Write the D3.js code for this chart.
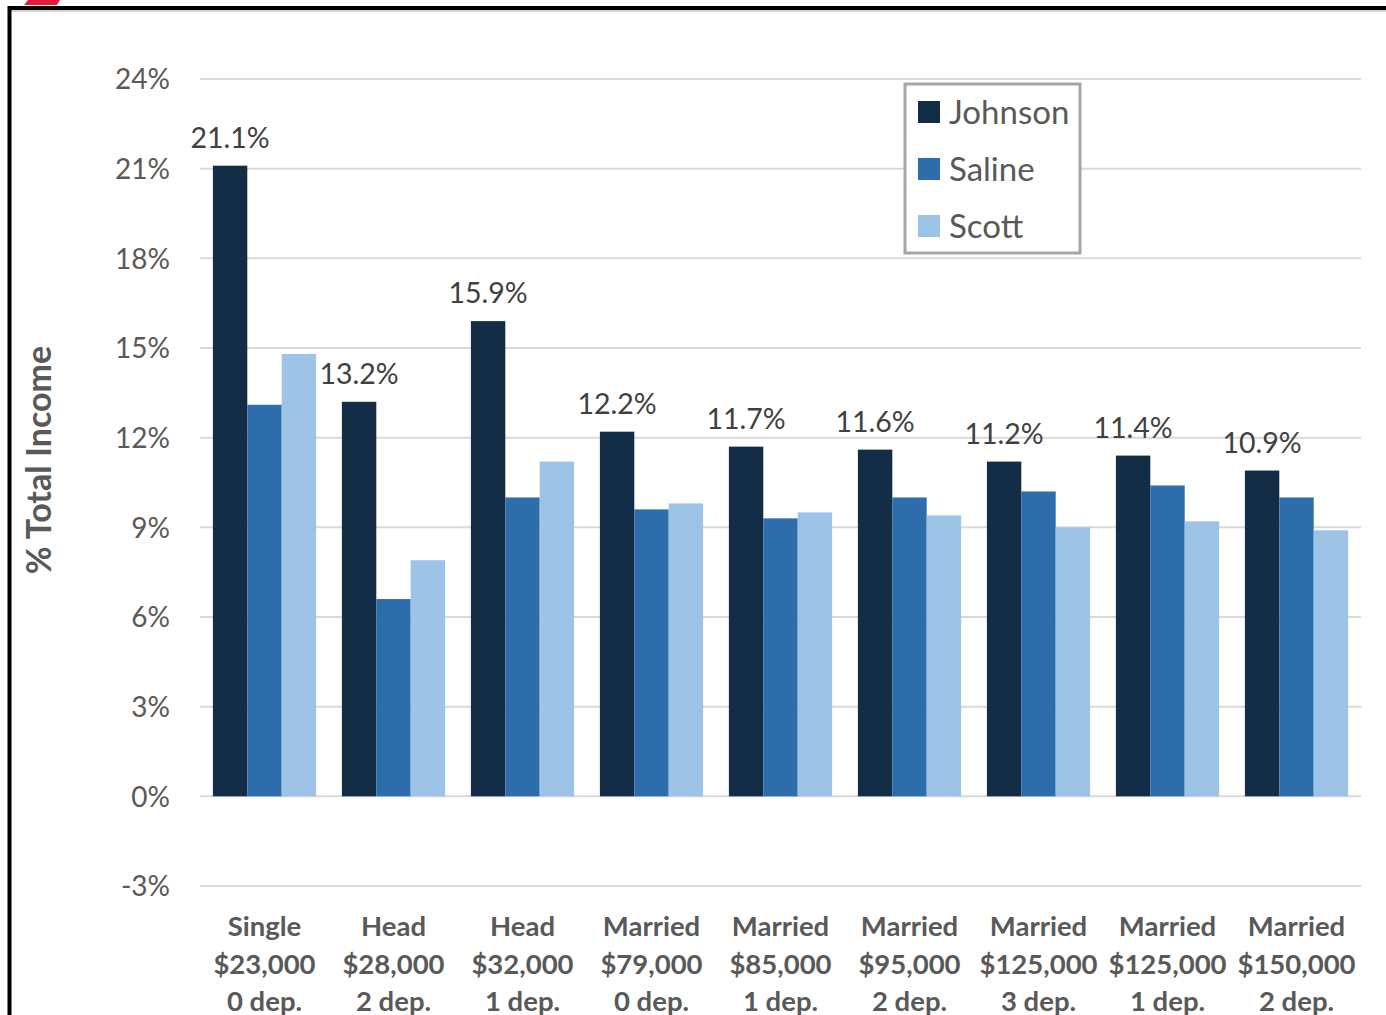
<!DOCTYPE html>
<html>
<head>
<meta charset="utf-8">
<script src="https://cdn.jsdelivr.net/npm/d3@7"></script>
<style>
  html, body { margin: 0; padding: 0; background: #fff; }
  svg { display: block; }
</style>
</head>
<body>
<svg id="chart" width="1386" height="1015"></svg>
<script>
// Tax burden as share of total income, by household profile and county
const categories = [
  ["Single", "$23,000", "0 dep."],
  ["Head", "$28,000", "2 dep."],
  ["Head", "$32,000", "1 dep."],
  ["Married", "$79,000", "0 dep."],
  ["Married", "$85,000", "1 dep."],
  ["Married", "$95,000", "2 dep."],
  ["Married", "$125,000", "3 dep."],
  ["Married", "$125,000", "1 dep."],
  ["Married", "$150,000", "2 dep."]
];
const seriesNames = ["Johnson", "Saline", "Scott"];
const johnson = [21.1, 13.2, 15.9, 12.2, 11.7, 11.6, 11.2, 11.4, 10.9];
const saline  = [13.1, 6.6, 10.0, 9.6, 9.3, 10.0, 10.2, 10.4, 10.0];
const scott   = [14.8, 7.9, 11.2, 9.8, 9.5, 9.4, 9.0, 9.2, 8.9];
const yTicks  = [-3, 0, 3, 6, 9, 12, 15, 18, 21, 24];

const series = [johnson, saline, scott];
const colors = ["#132d46", "#2e6dab", "#9dc3e6"];
const font = "Lato, 'Open Sans', sans-serif";

const svg = d3.select("#chart");

// outer frame and corner accent
svg.append("polygon")
  .attr("points", "28,0 60,0 57,5 24,5")
  .attr("fill", "#e31c3d");
svg.append("line").attr("x1", 8).attr("x2", 1386).attr("y1", 11).attr("y2", 11)
  .attr("stroke", "#c8c8c8").attr("stroke-width", 1.5);
svg.append("path")
  .attr("d", "M9.5,1015 V8 H1386")
  .attr("fill", "none").attr("stroke", "#000").attr("stroke-width", 4);

const x0 = d3.scaleBand()
  .domain(d3.range(categories.length))
  .range([200, 1361])
  .paddingInner(0.2)
  .paddingOuter(0.1);
const x1 = d3.scaleBand()
  .domain(d3.range(seriesNames.length))
  .range([0, x0.bandwidth()]);
const y = d3.scaleLinear().domain([-3, 24]).range([886, 79]);

// gridlines
svg.append("g")
  .selectAll("line")
  .data(yTicks)
  .join("line")
  .attr("x1", 200).attr("x2", 1361)
  .attr("y1", d => y(d)).attr("y2", d => y(d))
  .attr("stroke", "#d9d9d9").attr("stroke-width", 2);

// y tick labels
const yAxis = d3.axisLeft(y).tickValues(yTicks).tickFormat(d => d + "%").tickSize(0).tickPadding(0);
const yg = svg.append("g").attr("transform", "translate(170,1)").call(yAxis);
yg.select(".domain").remove();
yg.selectAll("text")
  .attr("font-family", font).attr("font-size", 28).attr("fill", "#595959");

// bars
const groups = svg.append("g")
  .selectAll("g")
  .data(categories.map((c, i) => i))
  .join("g")
  .attr("transform", i => `translate(${x0(i)},0)`);

groups.selectAll("rect")
  .data(i => series.map((s, k) => ({ k, v: s[i] })))
  .join("rect")
  .attr("x", d => x1(d.k))
  .attr("width", x1.bandwidth())
  .attr("y", d => y(Math.max(0, d.v)))
  .attr("height", d => Math.abs(y(d.v) - y(0)))
  .attr("fill", d => colors[d.k]);

// value labels over Johnson bars
groups.append("text")
  .attr("x", x1(0) + x1.bandwidth() / 2)
  .attr("y", i => y(johnson[i]) - 18)
  .attr("text-anchor", "middle")
  .attr("font-family", font).attr("font-size", 28.5).attr("fill", "#404040")
  .text(i => johnson[i].toFixed(1) + "%");

// category labels
const xg = svg.append("g");
xg.selectAll("text")
  .data(categories)
  .join("text")
  .attr("x", (d, i) => x0(i) + x0.bandwidth() / 2)
  .attr("y", 936)
  .attr("text-anchor", "middle")
  .attr("font-family", font).attr("font-weight", "bold").attr("font-size", 27.5).attr("fill", "#595959")
  .selectAll("tspan")
  .data(d => d)
  .join("tspan")
  .attr("x", function () { return d3.select(this.parentNode).attr("x"); })
  .attr("dy", (d, j) => j === 0 ? 0 : 37.5)
  .text(d => d);

// y axis title
svg.append("text")
  .attr("transform", "translate(51,460) rotate(-90)")
  .attr("text-anchor", "middle")
  .attr("font-family", font).attr("font-weight", "bold").attr("font-size", 34).attr("fill", "#595959")
  .text("% Total Income");

// legend
const legend = svg.append("g");
legend.append("rect")
  .attr("x", 905).attr("y", 84).attr("width", 175).attr("height", 169)
  .attr("fill", "#fff").attr("stroke", "#a6a6a6").attr("stroke-width", 3);
const items = legend.selectAll("g.item")
  .data(seriesNames)
  .join("g")
  .attr("class", "item")
  .attr("transform", (d, i) => `translate(918,${112 + i * 57})`);
items.append("rect")
  .attr("x", 0).attr("y", -11).attr("width", 22).attr("height", 22)
  .attr("fill", (d, i) => colors[i]);
items.append("text")
  .attr("x", 31).attr("y", 12)
  .attr("font-family", font).attr("font-size", 33).attr("fill", "#595959")
  .text(d => d);
</script>
</body>
</html>
